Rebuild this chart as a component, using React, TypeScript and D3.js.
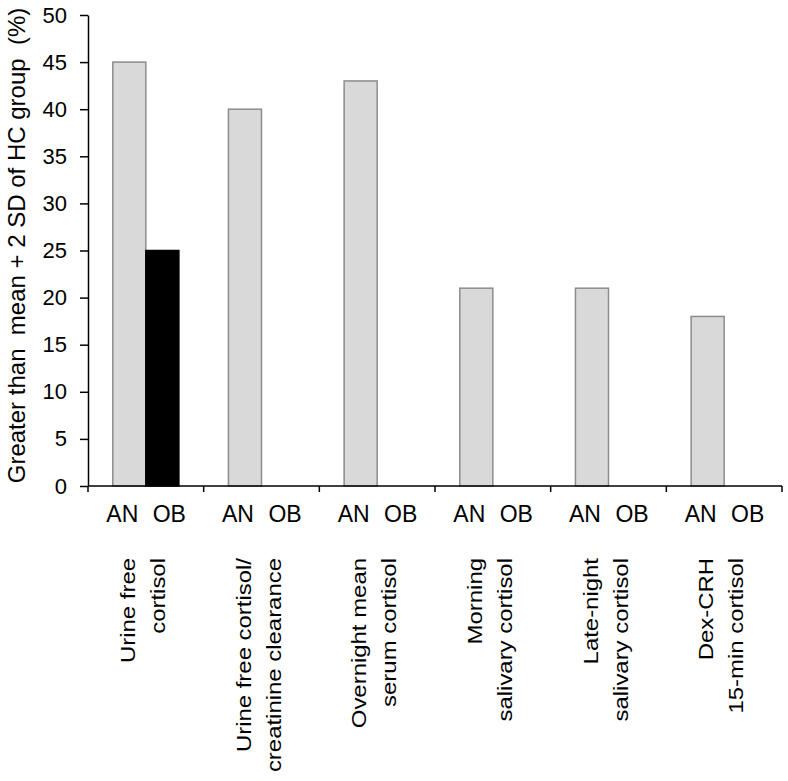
import React, { useEffect, useRef } from 'react';
import * as d3 from 'd3';

const categories = [
  ['Urine free', 'cortisol'],
  ['Urine free cortisol/', 'creatinine clearance'],
  ['Overnight mean', 'serum cortisol'],
  ['Morning', 'salivary cortisol'],
  ['Late-night', 'salivary cortisol'],
  ['Dex-CRH', '15-min cortisol'],
];
const groups = ['AN', 'OB'];
const anValues = [45, 40, 43, 21, 21, 18];
const obValues = [25, 0, 0, 0, 0, 0];
const yTicks = [0, 5, 10, 15, 20, 25, 30, 35, 40, 45, 50];
const yTitle = 'Greater than  mean + 2 SD of HC group  (%)';

const App = () => {
  const svgRef = useRef<SVGSVGElement>(null);

  useEffect(() => {
    const width = 788, height = 781;
    const margin = { top: 15, right: 6, bottom: 295, left: 88 };
    const font = 'Arial, "Liberation Sans", sans-serif';

    const svg = d3.select(svgRef.current);
    svg.selectAll('*').remove();
    svg.attr('width', width).attr('height', height);

    const rows = categories.map((c, i) => ({ i, AN: anValues[i], OB: obValues[i] }));

    const x = d3.scaleBand<number>()
      .domain(rows.map(d => d.i))
      .range([margin.left, width - margin.right])
      .padding(0);
    const xSub = d3.scaleBand<string>()
      .domain(groups)
      .range([0, x.bandwidth()])
      .paddingOuter(0.75)
      .paddingInner(0);
    const y = d3.scaleLinear()
      .domain([0, 50])
      .range([height - margin.bottom, margin.top]);

    const g = svg.append('g');
    rows.forEach(d => {
      groups.forEach(k => {
        const v = (d as any)[k] as number;
        if (!v) return;
        g.append('rect')
          .attr('x', x(d.i)! + xSub(k)!)
          .attr('y', y(v))
          .attr('width', xSub.bandwidth())
          .attr('height', y(0) - y(v))
          .attr('fill', k === 'AN' ? '#d9d9d9' : '#000')
          .attr('stroke', k === 'AN' ? '#8c8c8c' : '#000')
          .attr('stroke-width', 1.5);
      });
    });

    // y axis
    const yAxis = svg.append('g')
      .attr('transform', `translate(${margin.left},0)`)
      .call(d3.axisLeft(y).tickValues(yTicks).tickSize(8).tickPadding(13).tickSizeOuter(0));
    yAxis.select('.domain').attr('stroke', '#000').attr('stroke-width', 1.5);
    yAxis.selectAll('.tick line').attr('stroke', '#000').attr('stroke-width', 1.5);
    yAxis.selectAll('.tick text')
      .attr('font-family', font).attr('font-size', 22).attr('fill', '#000');

    // x axis
    const x0 = y(0);
    const xg = svg.append('g');
    xg.append('line')
      .attr('x1', margin.left).attr('x2', width - margin.right)
      .attr('y1', x0).attr('y2', x0)
      .attr('stroke', '#000').attr('stroke-width', 1.5);
    const bounds = rows.map(d => x(d.i)!).concat([x(rows[rows.length - 1].i)! + x.bandwidth()]);
    xg.selectAll('line.tk')
      .data(bounds)
      .join('line')
      .attr('class', 'tk')
      .attr('x1', d => d).attr('x2', d => d)
      .attr('y1', x0).attr('y2', x0 + 6)
      .attr('stroke', '#000').attr('stroke-width', 1.5);

    rows.forEach(d => {
      groups.forEach((k, j) => {
        xg.append('text')
          .attr('x', x(d.i)! + xSub(k)! + xSub.bandwidth() / 2 + (j === 0 ? -7 : 7))
          .attr('y', 522)
          .attr('text-anchor', 'middle')
          .attr('font-family', font).attr('font-size', 23)
          .text(k);
      });
      const cx = x(d.i)! + x.bandwidth() / 2;
      categories[d.i].forEach((line, li) => {
        const lx = cx + (li === 0 ? -11 : 19);
        xg.append('text')
          .attr('transform', `translate(${lx},558) rotate(-90) scale(1.14,1)`)
          .attr('text-anchor', 'end')
          .attr('font-family', font).attr('font-size', 21)
          .text(line);
      });
    });

    // y title
    svg.append('text')
      .attr('transform', `translate(25,${(y(0) + 5) / 2}) rotate(-90)`)
      .attr('text-anchor', 'middle')
      .attr('font-family', font).attr('font-size', 24)
      .style('white-space', 'pre')
      .text(yTitle);
  }, []);

  return <svg ref={svgRef} style={{ position: 'absolute', left: 0, top: 0 }}></svg>;
};

export default App;
